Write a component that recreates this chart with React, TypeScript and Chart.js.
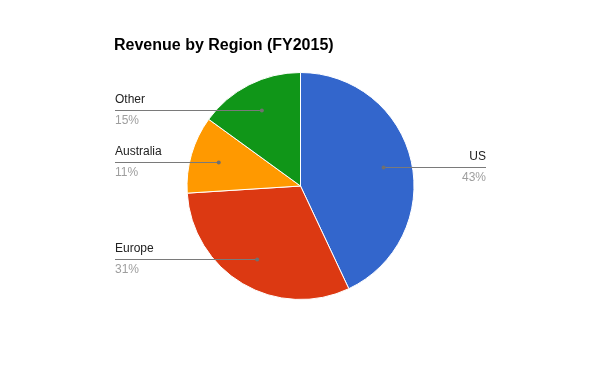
import React, { useEffect, useRef } from "react";
import { Chart, registerables } from "chart.js";

Chart.register(...registerables);

const title = "Revenue by Region (FY2015)";
const regions = ["US", "Europe", "Australia", "Other"];
const revenueShare = [43, 31, 11, 15];
const sliceColors = ["#3366cc", "#dc3912", "#ff9900", "#109618"];

const labelPlugin = {
  id: "pieLabels",
  afterDraw(chart: any) {
    const ctx = chart.ctx;
    ctx.save();
    // title
    ctx.font = "bold 16px 'Liberation Sans', Arial, sans-serif";
    ctx.fillStyle = "#000";
    ctx.textAlign = "left";
    ctx.textBaseline = "middle";
    ctx.fillText(title, 114, 46);

    const meta = chart.getDatasetMeta(0);
    const total = revenueShare.reduce((a, b) => a + b, 0);
    meta.data.forEach((arc: any, i: number) => {
      const p = arc.getProps(["x", "y", "startAngle", "endAngle", "outerRadius"], true);
      const mid = (p.startAngle + p.endAngle) / 2;
      const r = p.outerRadius * 0.75;
      const dx = p.x + Math.cos(mid) * r;
      const dy = p.y + Math.sin(mid) * r;
      const right = Math.cos(mid) > 0;
      const lineEnd = right ? 486 : 115;
      const ly = Math.round(dy) + 0.5;
      ctx.strokeStyle = "#7a7a7a";
      ctx.lineWidth = 1;
      ctx.beginPath();
      ctx.moveTo(dx, ly);
      ctx.lineTo(lineEnd, ly);
      ctx.stroke();
      ctx.fillStyle = "#707070";
      ctx.beginPath();
      ctx.arc(dx, ly, 2, 0, Math.PI * 2);
      ctx.fill();

      ctx.textAlign = right ? "right" : "left";
      ctx.textBaseline = "middle";
      ctx.font = "12px 'Liberation Sans', Arial, sans-serif";
      ctx.fillStyle = "#222222";
      ctx.fillText(regions[i], lineEnd, ly - 10.5);
      ctx.fillStyle = "#9e9e9e";
      const pct = Math.round((revenueShare[i] / total) * 100) + "%";
      ctx.fillText(pct, lineEnd, ly + 10);
    });
    ctx.restore();
  },
};

export default function App() {
  const ref = useRef<HTMLCanvasElement | null>(null);
  useEffect(() => {
    if (!ref.current) return;
    const chart = new Chart(ref.current, {
      type: "pie",
      data: {
        labels: regions,
        datasets: [
          {
            data: revenueShare,
            backgroundColor: sliceColors,
            borderColor: "#ffffff",
            borderWidth: 1,
            hoverBorderWidth: 1,
          },
        ],
      },
      options: {
        responsive: false,
        animation: false,
        events: [],
        layout: { padding: { top: 72, bottom: 71, left: 1, right: 0 } },
        plugins: {
          legend: { display: false },
          title: { display: false },
          tooltip: { enabled: false },
        },
      },
      plugins: [labelPlugin],
    });
    return () => chart.destroy();
  }, []);
  return (
    <div style={{ position: "fixed", left: 0, top: 0, width: 600, height: 371, background: "#fff" }}>
      <canvas ref={ref} width={600} height={371} style={{ width: 600, height: 371, display: "block" }} />
    </div>
  );
}
